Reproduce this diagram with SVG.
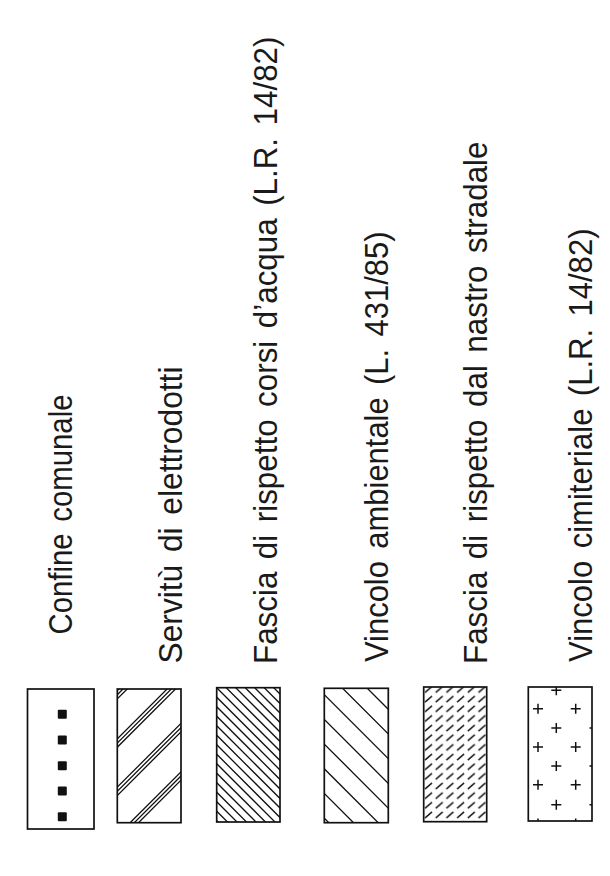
<svg xmlns="http://www.w3.org/2000/svg" xmlns:xlink="http://www.w3.org/1999/xlink" width="610" height="876" viewBox="0 0 610 876">
<style>
.frame{fill:none;stroke:#111;stroke-width:1.7}
.hatch{fill:none;stroke:#111;stroke-width:1.3}
.lbl{font-family:"Liberation Sans",Arial,sans-serif;font-size:33px;word-spacing:4px;fill:#1a1a1a}
.sq{fill:#111}
</style>
<defs>
<clipPath id="c2"><rect x="117.3" y="689" width="63.7" height="133.7"/></clipPath>
<clipPath id="c3"><rect x="216.7" y="687.7" width="63.3" height="134.3"/></clipPath>
<clipPath id="c4"><rect x="324.3" y="688.3" width="64" height="134.4"/></clipPath>
<clipPath id="c6"><rect x="528.3" y="687" width="63.7" height="134"/></clipPath>
<pattern id="dash" patternUnits="userSpaceOnUse" x="423.15" y="684.675" width="10.7" height="9.65">
<path d="M1.85 7.825L8.85 1.825" stroke="#111" stroke-width="1.4" fill="none"/>
</pattern>
<path id="cross" d="M-5 0H5M0 -5V5" stroke="#111" stroke-width="1.5" fill="none"/>
</defs>
<rect width="610" height="876" fill="#fff"/>

<g id="item-confine">
<rect class="frame" x="27.5" y="689" width="66.5" height="140"/>
<rect class="sq" x="57.8" y="709.8" width="9" height="9" rx="1"/>
<rect class="sq" x="57.8" y="735.5" width="9" height="9" rx="1"/>
<rect class="sq" x="57.8" y="761.2" width="9" height="9" rx="1"/>
<rect class="sq" x="57.8" y="786.5" width="9" height="9" rx="1"/>
<rect class="sq" x="57.8" y="812.2" width="9" height="9" rx="1"/>
<text class="lbl" transform="translate(71.7,634.5) rotate(-90)" textLength="240" lengthAdjust="spacingAndGlyphs">Confine comunale</text>
</g>

<g id="item-elettrodotti">
<path class="hatch" clip-path="url(#c2)" d="M110 697.8L190 617.8M110 702L190 622M110 706.2L190 626.2M110 746.1L190 666.1M110 750.3L190 670.3M110 754.5L190 674.5M110 794.4L190 714.4M110 798.6L190 718.6M110 802.8L190 722.8M110 842.8L190 762.8M110 847L190 767M110 851.2L190 771.2"/>
<rect class="frame" x="117.3" y="689" width="63.7" height="133.7"/>
<text class="lbl" transform="translate(181.7,663.5) rotate(-90)" textLength="297" lengthAdjust="spacingAndGlyphs">Servitù di elettrodotti</text>
</g>

<g id="item-corsi-acqua">
<path class="hatch" clip-path="url(#c3)" d="M210 624L290 704M210 633.5L290 713.5M210 643L290 723M210 652.5L290 732.5M210 662L290 742M210 671.5L290 751.5M210 681L290 761M210 690.5L290 770.5M210 700L290 780M210 709.5L290 789.5M210 719L290 799M210 728.5L290 808.5M210 738L290 818M210 747.5L290 827.5M210 757L290 837M210 766.5L290 846.5M210 776L290 856M210 785.5L290 865.5M210 795L290 875M210 804.5L290 884.5M210 814L290 894"/>
<rect class="frame" x="216.7" y="687.7" width="63.3" height="134.3"/>
<text class="lbl" transform="translate(276.7,664) rotate(-90)" textLength="627.5" lengthAdjust="spacingAndGlyphs">Fascia di rispetto corsi d’acqua (L.R. 14/82)</text>
</g>

<g id="item-ambientale">
<path class="hatch" clip-path="url(#c4)" d="M318 639L394 715M318 663.7L394 739.7M318 688.4L394 764.4M318 713.1L394 789.1M318 737.8L394 813.8M318 762.5L394 838.5M318 787.2L394 863.2M318 811.9L394 887.9"/>
<rect class="frame" x="324.3" y="688.3" width="64" height="134.4"/>
<text class="lbl" transform="translate(388.3,662) rotate(-90)" textLength="430.5" lengthAdjust="spacingAndGlyphs">Vincolo ambientale (L. 431/85)</text>
</g>

<g id="item-stradale">
<rect x="423.7" y="687" width="63" height="134.7" fill="url(#dash)"/>
<rect class="frame" x="423.7" y="687" width="63" height="134.7"/>
<text class="lbl" transform="translate(486.7,664) rotate(-90)" textLength="522.5" lengthAdjust="spacingAndGlyphs">Fascia di rispetto dal nastro stradale</text>
</g>

<g id="item-cimiteriale">
<g clip-path="url(#c6)">
<use xlink:href="#cross" x="556.3" y="690.3"/>
<use xlink:href="#cross" x="538" y="708.7"/>
<use xlink:href="#cross" x="575.7" y="708.7"/>
<use xlink:href="#cross" x="556.3" y="728"/>
<use xlink:href="#cross" x="538" y="747"/>
<use xlink:href="#cross" x="575.7" y="747"/>
<use xlink:href="#cross" x="556.3" y="766"/>
<use xlink:href="#cross" x="538" y="784.7"/>
<use xlink:href="#cross" x="575.7" y="784.7"/>
<use xlink:href="#cross" x="556.3" y="804.7"/>
<use xlink:href="#cross" x="538" y="823.5"/>
<use xlink:href="#cross" x="575.7" y="823.5"/>
<use xlink:href="#cross" x="594.5" y="728"/>
<use xlink:href="#cross" x="594.5" y="766"/>
<use xlink:href="#cross" x="594.5" y="804.7"/>
</g>
<rect class="frame" x="528.3" y="687" width="63.7" height="134"/>
<text class="lbl" transform="translate(591.7,662) rotate(-90)" textLength="433.5" lengthAdjust="spacingAndGlyphs">Vincolo cimiteriale (L.R. 14/82)</text>
</g>
</svg>
